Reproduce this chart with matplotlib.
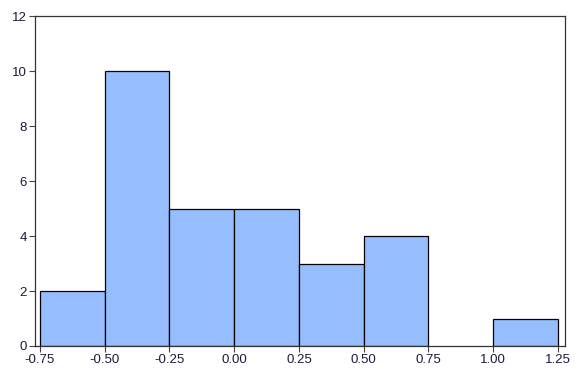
import numpy as np
import matplotlib.pyplot as plt

plt.rcParams['font.family'] = ['Liberation Sans', 'DejaVu Sans']
fontsize = 9.5

# histogram bins and counts
bin_edges = [-0.75, -0.50, -0.25, 0.00, 0.25, 0.50, 0.75, 1.00, 1.25]
counts = [2, 10, 5, 5, 3, 4, 0, 1]
x_ticks = [-0.75, -0.50, -0.25, 0.00, 0.25, 0.50, 0.75, 1.00, 1.25]
y_ticks = [0, 2, 4, 6, 8, 10, 12]

fig = plt.figure(figsize=(5.8, 3.76), dpi=100)
ax = fig.add_axes([0.0603, 0.0798, 0.9137, 0.8772])

edges = np.array(bin_edges)
widths = np.diff(edges)
for left, w, c in zip(edges[:-1], widths, counts):
    if c > 0:
        ax.bar(left, c, width=w, align='edge', color='#96BEFF',
               edgecolor='black', linewidth=0.9)

ax.set_xlim(-0.769, 1.277)
ax.set_ylim(0, 12)
ax.set_xticks(x_ticks)
ax.set_xticklabels(['%.2f' % t for t in x_ticks], fontsize=fontsize)
ax.set_yticks(y_ticks)
ax.set_yticklabels([str(t) for t in y_ticks], fontsize=fontsize)
ax.tick_params(direction='out', length=4, width=0.8, colors='#444444',
               labelcolor='#1a1a3a', pad=2)
for s in ax.spines.values():
    s.set_color('#333333')
    s.set_linewidth(0.9)

plt.savefig('out.png', dpi=100)
